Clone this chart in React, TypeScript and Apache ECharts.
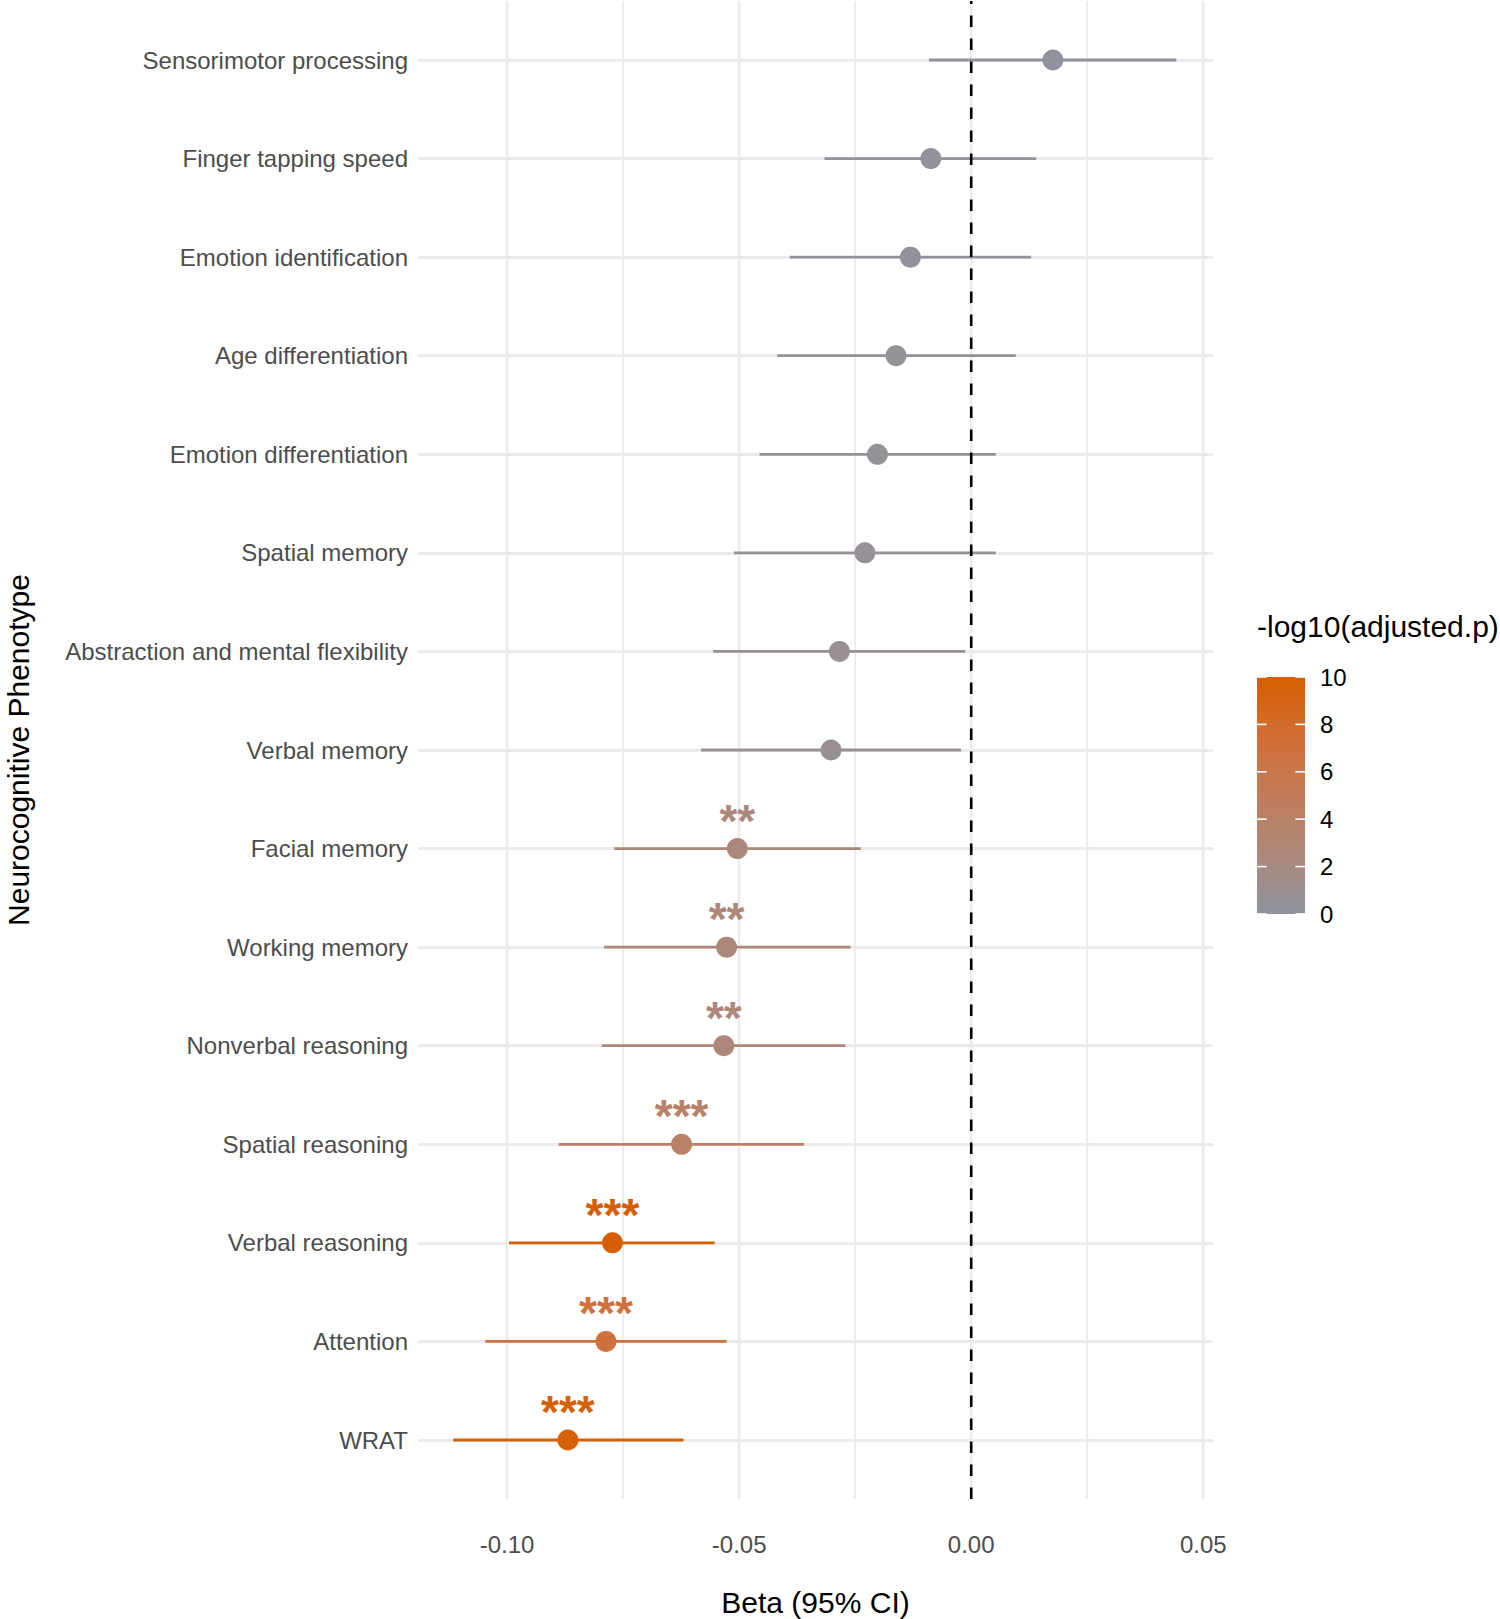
import React, { useEffect, useRef } from "react";
import * as echarts from "echarts";

const categories = [
  "Sensorimotor processing",
  "Finger tapping speed",
  "Emotion identification",
  "Age differentiation",
  "Emotion differentiation",
  "Spatial memory",
  "Abstraction and mental flexibility",
  "Verbal memory",
  "Facial memory",
  "Working memory",
  "Nonverbal reasoning",
  "Spatial reasoning",
  "Verbal reasoning",
  "Attention",
  "WRAT",
];
const beta = [0.0176, -0.0087, -0.0131, -0.0162, -0.0202, -0.0229, -0.0284, -0.0302, -0.0504, -0.0527, -0.0533, -0.0624, -0.0773, -0.0787, -0.0869];
const ciLow = [-0.0091, -0.0316, -0.0391, -0.0418, -0.0456, -0.0511, -0.0556, -0.0582, -0.0769, -0.0791, -0.0796, -0.0889, -0.0996, -0.1047, -0.1116];
const ciHigh = [0.0442, 0.014, 0.0129, 0.0096, 0.0053, 0.0053, -0.0013, -0.0022, -0.0238, -0.026, -0.0271, -0.036, -0.0553, -0.0527, -0.062];
const negLog10P = [0.2, 0.3, 0.3, 0.4, 0.5, 0.6, 0.8, 0.9, 2.4, 2.5, 2.6, 3.9, 10.0, 7.0, 9.6];
const stars = ["", "", "", "", "", "", "", "", "**", "**", "**", "***", "***", "***", "***"];
const xTicks = [-0.1, -0.05, 0, 0.05];
const xMinorTicks = [-0.075, -0.025, 0.025];
const colorTicks = [0, 2, 4, 6, 8, 10];
const colorStops = ["#8E949E", "#AC887B", "#C27C59", "#D26E35", "#D55E00"];
const zeroLine = [0];

const FONT = '"Liberation Sans", Arial, sans-serif';
const X_MIN = -0.1192;
const X_MAX = 0.0521;

export default function App() {
  const ref = useRef<HTMLDivElement>(null);
  useEffect(() => {
    if (!ref.current) return;
    const chart = echarts.init(ref.current, null, { renderer: "svg" });
    const rows = categories.map((c, i) => [beta[i], i, ciLow[i], ciHigh[i], negLog10P[i]]);
    const vgrid = [
      ...xTicks.map((v) => [v, 1]),
      ...xMinorTicks.map((v) => [v, 0]),
    ];
    const option: any = {
      animation: false,
      textStyle: { fontFamily: FONT },
      grid: [
        { left: 418, right: 287, top: 1, bottom: 120, outerBoundsMode: "none", containLabel: false },
        { left: 418, right: 287, top: 60, bottom: 179, outerBoundsMode: "none", containLabel: false },
        { left: 1257, width: 48, top: 677, height: 237, outerBoundsMode: "none", containLabel: false },
      ],
      xAxis: [
        {
          gridIndex: 0,
          type: "value",
          min: X_MIN,
          max: X_MAX,
          axisLine: { show: false },
          axisTick: { show: false },
          splitLine: { show: false },
          axisLabel: {
            customValues: xTicks,
            formatter: (v: number) => v.toFixed(2),
            fontSize: 24,
            color: "#4D4D4D",
            margin: 33,
            fontFamily: FONT,
          },
          name: "Beta (95% CI)",
          nameLocation: "middle",
          nameGap: 88,
          nameTextStyle: { fontSize: 30, color: "#000", fontFamily: FONT },
        },
        { gridIndex: 1, type: "value", min: X_MIN, max: X_MAX, show: false },
        { gridIndex: 2, type: "value", min: 0, max: 1, show: false },
      ],
      yAxis: [
        {
          gridIndex: 0,
          type: "value",
          min: 0,
          max: 1,
          axisLine: { show: false },
          axisTick: { show: false },
          axisLabel: { show: false },
          splitLine: { show: false },
          name: "Neurocognitive Phenotype",
          nameLocation: "middle",
          nameRotate: 90,
          nameGap: 385,
          nameTextStyle: { fontSize: 30, color: "#000", fontFamily: FONT },
        },
        {
          gridIndex: 1,
          type: "category",
          data: categories,
          inverse: true,
          boundaryGap: false,
          axisLine: { show: false },
          axisTick: { show: false },
          axisLabel: { fontSize: 24, color: "#4D4D4D", margin: 10, fontFamily: FONT, interval: 0 },
          splitLine: { show: true, interval: 0, lineStyle: { color: "#EBEBEB", width: 2.8 } },
        },
        {
          gridIndex: 2,
          type: "value",
          min: 0,
          max: 10,
          interval: 2,
          position: "right",
          axisLine: { show: false },
          axisTick: { show: false },
          splitLine: { show: false },
          axisLabel: { fontSize: 24, color: "#000", margin: 15, fontFamily: FONT },
        },
      ],
      visualMap: [
        {
          type: "continuous",
          show: false,
          min: 0,
          max: 10,
          dimension: 4,
          seriesIndex: 2,
          inRange: { color: colorStops },
        },
      ],
      graphic: [
        {
          type: "text",
          left: 1257,
          top: 611,
          style: { text: "-log10(adjusted.p)", font: `30px ${FONT}`, fill: "#000" },
        },
      ],
      series: [
        {
          type: "custom",
          xAxisIndex: 0,
          yAxisIndex: 0,
          z: 0,
          silent: true,
          data: vgrid,
          renderItem: (params: any, api: any) => {
            const cs = params.coordSys;
            const x = api.coord([api.value(0), 0])[0];
            const major = api.value(1) === 1;
            return {
              type: "line",
              shape: { x1: x, y1: cs.y, x2: x, y2: cs.y + cs.height },
              style: { stroke: "#EBEBEB", lineWidth: major ? 2.4 : 1.8 },
            };
          },
        },
        {
          type: "custom",
          xAxisIndex: 0,
          yAxisIndex: 0,
          z: 5,
          silent: true,
          data: zeroLine.map((v) => [v, 0]),
          renderItem: (params: any, api: any) => {
            const cs = params.coordSys;
            const x = api.coord([api.value(0), 0])[0];
            return {
              type: "line",
              shape: { x1: x, y1: cs.y + cs.height, x2: x, y2: cs.y },
              style: { stroke: "#000", lineWidth: 2.6, lineDash: [11.5, 11.5] },
            };
          },
        },
        {
          type: "custom",
          xAxisIndex: 1,
          yAxisIndex: 1,
          z: 3,
          data: rows,
          encode: { x: 0, y: 1 },
          renderItem: (params: any, api: any) => {
            const i = params.dataIndex;
            const color = api.visual("color");
            const p = api.coord([api.value(0), i]);
            const lo = api.coord([api.value(2), i]);
            const hi = api.coord([api.value(3), i]);
            const children: any[] = [
              {
                type: "line",
                shape: { x1: lo[0], y1: lo[1], x2: hi[0], y2: hi[1] },
                style: { stroke: color, lineWidth: 2.8 },
              },
              { type: "circle", shape: { cx: p[0], cy: p[1], r: 10.5 }, style: { fill: color } },
            ];
            if (stars[i]) {
              children.push({
                type: "text",
                x: p[0],
                y: p[1] - 28,
                style: {
                  text: stars[i],
                  fill: color,
                  font: `bold 46px ${FONT}`,
                  align: "center",
                  verticalAlign: "middle",
                },
              });
            }
            return { type: "group", children };
          },
        },
        {
          type: "custom",
          xAxisIndex: 2,
          yAxisIndex: 2,
          z: 2,
          silent: true,
          data: [[0.5, 5]],
          renderItem: (params: any, api: any) => {
            const cs = params.coordSys;
            const grad = new echarts.graphic.LinearGradient(
              0,
              1,
              0,
              0,
              colorStops.map((c, k) => ({ offset: k / (colorStops.length - 1), color: c }))
            );
            const children: any[] = [
              { type: "rect", shape: { x: cs.x, y: cs.y, width: cs.width, height: cs.height }, style: { fill: grad } },
            ];
            colorTicks.forEach((v) => {
              const yy = api.coord([0, v])[1];
              const tl = cs.width / 5;
              children.push({
                type: "line",
                shape: { x1: cs.x, y1: yy, x2: cs.x + tl, y2: yy },
                style: { stroke: "#FFFFFF", lineWidth: 1.6 },
              });
              children.push({
                type: "line",
                shape: { x1: cs.x + cs.width - tl, y1: yy, x2: cs.x + cs.width, y2: yy },
                style: { stroke: "#FFFFFF", lineWidth: 1.6 },
              });
            });
            return { type: "group", children };
          },
        },
      ],
    };
    chart.setOption(option);
    return () => chart.dispose();
  }, []);
  return (
    <div
      ref={ref}
      style={{ position: "absolute", left: 0, top: 0, width: 1500, height: 1619, background: "#fff" }}
    />
  );
}
